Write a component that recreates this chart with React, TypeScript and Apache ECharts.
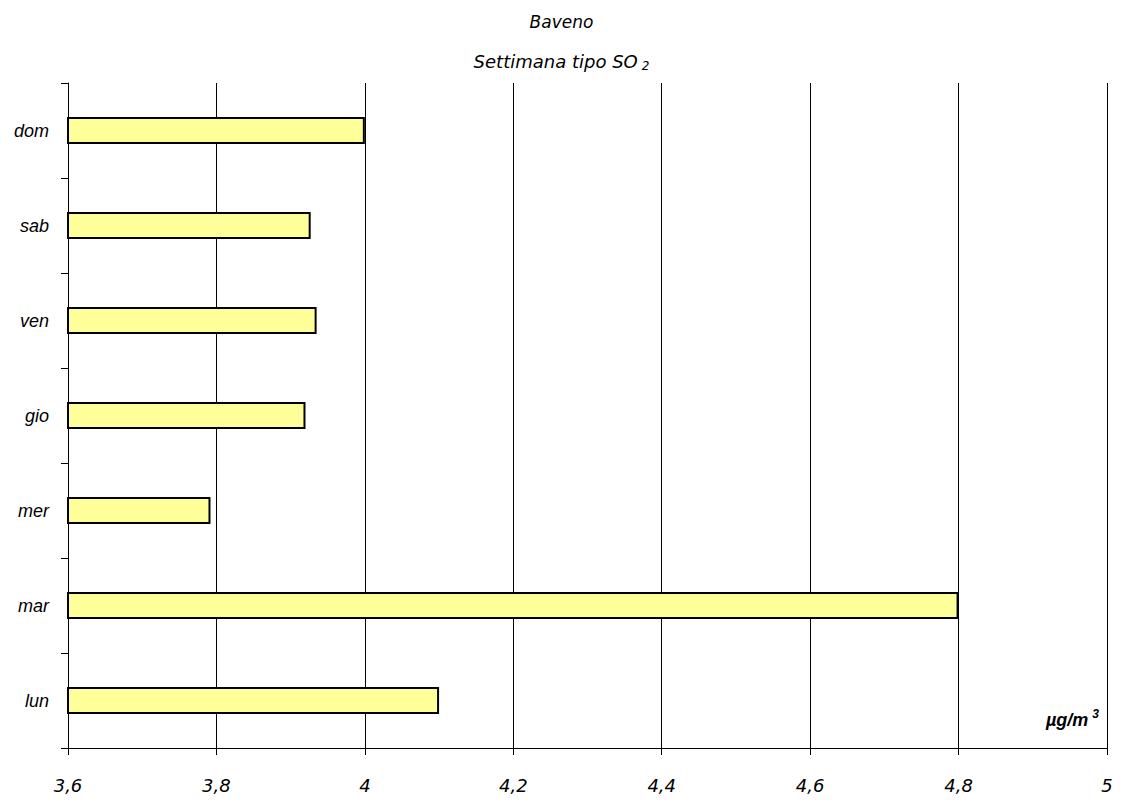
import React, { useEffect, useRef } from "react";
import * as echarts from "echarts";

// Days of the week, bottom to top
const days = ["lun", "mar", "mer", "gio", "ven", "sab", "dom"];
// Mean SO2 concentration per weekday (µg/m³)
const so2Values = [4.1, 4.8, 3.792, 3.92, 3.935, 3.927, 4.0];
// Value axis range
const axisMin = 3.6;
const axisMax = 5;
const axisStep = 0.2;

export default function App() {
  const ref = useRef<HTMLDivElement>(null);

  useEffect(() => {
    if (!ref.current) return;
    const chart = echarts.init(ref.current, undefined, { renderer: "svg" });
    const wideFont = "'DejaVu Sans', Verdana, sans-serif";
    const armFont = "'Liberation Sans', Arial, sans-serif";
    chart.setOption({
      animation: false,
      backgroundColor: "#ffffff",
      grid: { left: 68, right: 16, top: 83, bottom: 52, containLabel: false },
      xAxis: {
        type: "value",
        min: axisMin,
        max: axisMax,
        interval: axisStep,
        axisLine: { show: true, lineStyle: { color: "#000", width: 1 } },
        axisTick: { show: true, inside: false, length: 7, lineStyle: { color: "#000" } },
        axisLabel: {
          margin: 28,
          fontSize: 18,
          fontStyle: "italic",
          fontFamily: wideFont,
          color: "#000",
          formatter: (v: number) => String(Math.round(v * 10) / 10).replace(".", ","),
        },
        splitLine: { show: true, lineStyle: { color: "#000", width: 1 } },
      },
      yAxis: {
        type: "category",
        data: days,
        boundaryGap: true,
        axisLine: { show: true, lineStyle: { color: "#000", width: 1 } },
        axisTick: { show: true, inside: false, length: 7, lineStyle: { color: "#000" } },
        axisLabel: {
          margin: 19,
          fontSize: 18,
          fontStyle: "italic",
          fontFamily: armFont,
          color: "#000",
        },
        splitLine: { show: false },
      },
      series: [
        {
          type: "bar",
          data: so2Values,
          barWidth: 27,
          itemStyle: { color: "#FFFF99", borderColor: "#000", borderWidth: 2 },
        },
      ],
      graphic: [
        {
          type: "text",
          left: "center",
          top: 13,
          style: {
            text: "Baveno",
            font: "italic 17px " + wideFont,
            fill: "#000",
          },
        },
        {
          type: "text",
          left: "center",
          top: 52,
          style: {
            text: "Settimana tipo SO{sub|2}",
            font: "italic 18px " + wideFont,
            fill: "#000",
            rich: {
              sub: {
                fontSize: 12,
                fontStyle: "italic",
                fontFamily: wideFont,
                padding: [10, 0, 0, 4],
              },
            },
          },
        },
        {
          type: "text",
          right: 24,
          top: 708,
          style: {
            text: "µg/m{sup|3}",
            font: "italic bold 18px " + armFont,
            fill: "#000",
            rich: {
              sup: {
                fontSize: 12,
                fontStyle: "italic",
                fontWeight: "bold",
                fontFamily: armFont,
                padding: [0, 0, 12, 4],
              },
            },
          },
        },
      ],
    });
    return () => chart.dispose();
  }, []);

  return (
    <div
      ref={ref}
      style={{ position: "fixed", left: 0, top: 0, width: 1123, height: 800 }}
    />
  );
}
